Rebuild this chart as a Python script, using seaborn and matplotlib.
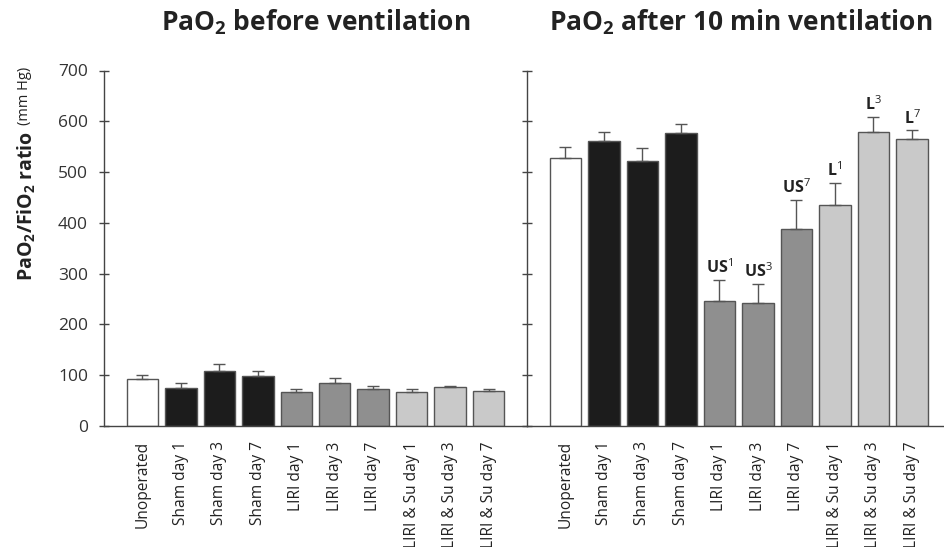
import numpy as np
import pandas as pd
import matplotlib
matplotlib.use("Agg")
import matplotlib.pyplot as plt
import seaborn as sns

categories = ["Unoperated", "Sham day 1", "Sham day 3", "Sham day 7",
              "LIRI day 1", "LIRI day 3", "LIRI day 7",
              "LIRI & Su day 1", "LIRI & Su day 3", "LIRI & Su day 7"]
before_mean = [93, 75, 108, 98, 66, 84, 73, 66, 76, 69]
before_err = [7, 10, 15, 11, 6, 10, 6, 6, 2, 4]
after_mean = [528, 562, 522, 576, 246, 243, 388, 435, 578, 566]
after_err = [22, 17, 25, 18, 42, 37, 57, 44, 31, 16]
after_labels = ["", "", "", "", "US$^{1}$", "US$^{3}$", "US$^{7}$",
                "L$^{1}$", "L$^{3}$", "L$^{7}$"]
bar_colors = ["#ffffff", "#1c1c1c", "#1c1c1c", "#1c1c1c",
              "#8f8f8f", "#8f8f8f", "#8f8f8f",
              "#c9c9c9", "#c9c9c9", "#c9c9c9"]
y_ticks = [0, 100, 200, 300, 400, 500, 600, 700]

sns.set_theme(style="white")
plt.rcParams["font.family"] = ["Open Sans", "DejaVu Sans"]
plt.rcParams["mathtext.fontset"] = "custom"
plt.rcParams["mathtext.rm"] = "Open Sans"
plt.rcParams["mathtext.bf"] = "Open Sans:bold"
plt.rcParams["mathtext.it"] = "Open Sans:italic"

W, H = 945, 547
fig = plt.figure(figsize=(W / 100, H / 100), dpi=100)
y0 = 426
y700 = 70.5
x_left = 104
x_mid = 527
step = 38.5

axL = fig.add_axes([x_left / W, (H - y0) / H, (x_mid - x_left) / W, (y0 - y700) / H])
axR = fig.add_axes([x_mid / W, (H - y0) / H, (W - x_mid) / W, (y0 - y700) / H])

axis_col = "#444444"
for ax, means, errs in [(axL, before_mean, before_err), (axR, after_mean, after_err)]:
    df = pd.DataFrame({"group": categories, "value": means})
    sns.barplot(data=df, x="group", y="value", hue="group", palette=bar_colors,
                order=categories, hue_order=categories, legend=False, ax=ax,
                width=0.82, edgecolor="#555555", linewidth=1.0, errorbar=None)
    xs = np.arange(len(categories))
    ax.errorbar(xs, means, yerr=[np.zeros(len(errs)), errs], fmt="none",
                ecolor="#555555", elinewidth=1.0, capsize=4.5, capthick=1.0, zorder=3)
    ax.set_ylim(0, 700)
    ax.set_yticks(y_ticks)
    ax.set_xlabel("")
    ax.set_ylabel("")
    for s in ["top", "right"]:
        ax.spines[s].set_visible(False)
    for s in ["left", "bottom"]:
        ax.spines[s].set_color(axis_col)
        ax.spines[s].set_linewidth(1.0)
    ax.tick_params(axis="y", direction="inout", length=7, width=1.0, color=axis_col,
                   labelsize=12.5, labelcolor="#333333", left=True, pad=8)
    ax.tick_params(axis="x", bottom=False, labelsize=11.2, labelcolor="#222222",
                   rotation=90, pad=5)
    ax.set_facecolor("none")

axL.set_xlim(-1, 10)
axR.set_xlim(-1, (W - x_mid) / step - 1)
axR.tick_params(axis="y", labelleft=False)

for i, lab in enumerate(after_labels):
    if lab:
        axR.annotate(lab, (i, after_mean[i] + after_err[i]), xytext=(0, 2),
                     textcoords="offset points", ha="center", va="bottom",
                     fontsize=11.5, fontweight="bold", color="#222222")

fig.text(316 / W, 1 - 31 / H, r"PaO$_{\mathbf{2}}$ before ventilation", ha="center", va="baseline",
         fontsize=19, fontweight="bold", color="#222222")
fig.text(741 / W, 1 - 31 / H, r"PaO$_{\mathbf{2}}$ after 10 min ventilation", ha="center", va="baseline",
         fontsize=19, fontweight="bold", color="#222222")

fig.text(26 / W, 1 - 281 / H, r"PaO$_{\mathbf{2}}$/FiO$_{\mathbf{2}}$ ratio", rotation=90,
         ha="center", va="bottom", fontsize=14, fontweight="bold", color="#222222")
fig.text(25 / W, 1 - 125 / H, "(mm Hg)", rotation=90,
         ha="center", va="bottom", fontsize=10.5, color="#222222")

fig.savefig("out.png", dpi=100, facecolor="white")
